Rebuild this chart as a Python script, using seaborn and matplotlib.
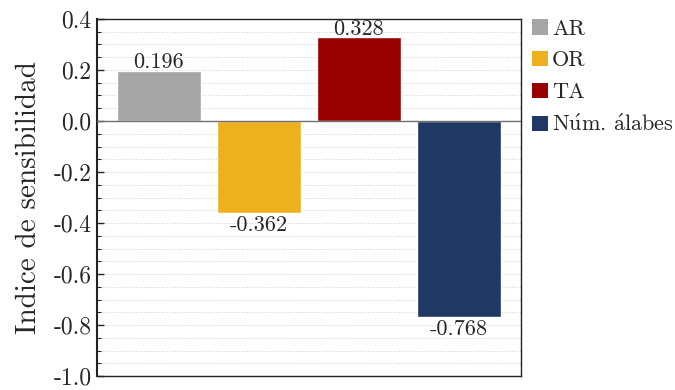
import matplotlib
matplotlib.use("Agg")
import matplotlib.pyplot as plt
import seaborn as sns
import pandas as pd
from matplotlib.ticker import MultipleLocator
from matplotlib.patches import Patch

categories = ["AR", "OR", "TA", r"N$\acute{\rm u}$m. $\acute{\rm a}$labes"]
values = [0.196, -0.362, 0.328, -0.768]
colors = ["#A6A6A6", "#EDB120", "#990000", "#1F3864"]
y_ticks = [0.4, 0.2, 0.0, -0.2, -0.4, -0.6, -0.8, -1.0]

sns.set_theme(style="white")
plt.rcParams["font.family"] = ["cmr10", "DejaVu Serif"]
plt.rcParams["mathtext.fontset"] = "cm"
plt.rcParams["axes.unicode_minus"] = False

df = pd.DataFrame({"cat": categories, "val": values})

fig = plt.figure(figsize=(6.75, 3.9), dpi=100)
ax = fig.add_axes([97 / 675, 14 / 390, 424 / 675, 357 / 390])

sns.barplot(data=df, x="cat", y="val", hue="cat", palette=colors,
            width=0.84, dodge=False, legend=False, ax=ax, saturation=1)

ax.set_xlim(-0.62, 3.62)
ax.set_ylim(-1.0, 0.4)
ax.set_yticks(y_ticks)
ax.set_yticklabels([f"{t:.1f}" for t in y_ticks])
ax.yaxis.set_minor_locator(MultipleLocator(0.05))
ax.grid(True, which="both", axis="y", color="#d0d0d0", linestyle=":", linewidth=0.7)
ax.set_axisbelow(True)
ax.axhline(0, color="#707070", linewidth=1.0, zorder=3)
ax.set_xticks([])
ax.set_xlabel("")
ax.set_ylabel("Indice de sensibilidad", fontsize=21, labelpad=8)
ax.tick_params(axis="y", which="major", direction="in", length=5, width=1,
               labelsize=17, left=True, right=False, pad=4)
ax.tick_params(axis="y", which="minor", direction="in", length=3, width=0.8,
               left=True, right=False)
for s in ax.spines.values():
    s.set_color("#222222")
    s.set_linewidth(1.0)
ax.spines["left"].set_linewidth(1.5)

for i, v in enumerate(values):
    if v >= 0:
        ax.text(i, v - 0.005, f"{v:.3f}", ha="center", va="bottom", fontsize=16)
    else:
        ax.text(i, v - 0.01, f"{v:.3f}", ha="center", va="top", fontsize=16)

handles = [Patch(facecolor=c, edgecolor="none") for c in colors]
fig.legend(handles, categories, loc="upper left", bbox_to_anchor=(532 / 675, 1 - 19 / 390),
           frameon=False, fontsize=16, handlelength=0.7, handleheight=0.7,
           handletextpad=0.2, labelspacing=0.55, borderaxespad=0, borderpad=0)

fig.savefig("out.png", dpi=100)
